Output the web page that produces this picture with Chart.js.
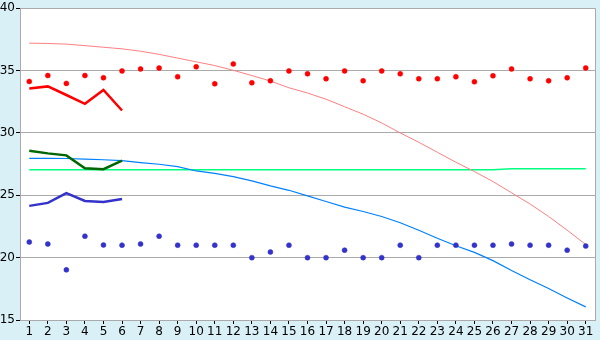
<!DOCTYPE html>
<html>
<head>
<meta charset="utf-8">
<script src="https://cdn.jsdelivr.net/npm/chart.js@4/dist/chart.umd.min.js"></script>
<style>
  html, body { margin: 0; padding: 0; background: #DAF0F7; }
  #wrap { width: 600px; height: 340px; }
</style>
</head>
<body>
<div id="wrap"><canvas id="c" width="600" height="340"></canvas></div>
<script>
const days = ['1','2','3','4','5','6','7','8','9','10','11','12','13','14','15','16','17','18','19','20','21','22','23','24','25','26','27','28','29','30','31'];

const highRecordDots = [34.13, 34.6, 33.97, 34.6, 34.42, 34.97, 35.13, 35.2, 34.5, 35.3,
  33.94, 35.53, 34.02, 34.18, 34.97, 34.74, 34.34, 34.97, 34.18, 34.97,
  34.74, 34.34, 34.34, 34.5, 34.1, 34.58, 35.13, 34.34, 34.18, 34.42, 35.21];

const lowRecordDots = [21.25, 21.09, 19.02, 21.72, 21.01, 21.0, 21.09, 21.72, 21.0, 21.0,
  21.0, 21.0, 20.0, 20.45, 21.0, 20.0, 20.0, 20.6, 20.0, 20.0,
  21.0, 20.0, 21.0, 21.0, 21.0, 21.0, 21.09, 21.0, 21.0, 20.6, 20.93];

const redLine = [33.57, 33.73, 33.04, 32.33, 33.44, 31.8];
const greenLine = [28.57, 28.36, 28.2, 27.17, 27.09, 27.78];
const blueLine = [24.15, 24.39, 25.18, 24.55, 24.47, 24.71];

const pinkCurve = [37.2, 37.17, 37.12, 37.0, 36.87, 36.74, 36.55, 36.3, 36.0, 35.7,
  35.4, 35.02, 34.6, 34.16, 33.62, 33.2, 32.7, 32.1, 31.5, 30.8,
  30.0, 29.25, 28.45, 27.65, 26.9, 26.1, 25.2, 24.3, 23.3, 22.2, 21.05];

const blueCurve = [27.96, 27.96, 27.95, 27.9, 27.85, 27.78, 27.62, 27.49, 27.3, 26.95,
  26.75, 26.5, 26.15, 25.75, 25.4, 24.95, 24.5, 24.05, 23.7, 23.3,
  22.8, 22.2, 21.55, 20.95, 20.42, 19.76, 18.97, 18.23, 17.52, 16.77, 16.05];

const greenFlat = [27.04, 27.04, 27.04, 27.04, 27.04, 27.04, 27.04, 27.04, 27.04, 27.04,
  27.04, 27.04, 27.04, 27.04, 27.04, 27.04, 27.04, 27.04, 27.04, 27.04,
  27.04, 27.04, 27.04, 27.04, 27.04, 27.04, 27.12, 27.12, 27.12, 27.12, 27.12];

const yTicks = [15, 20, 25, 30, 35, 40];

const plotBg = {
  id: 'plotBg',
  beforeDraw(chart) {
    const {ctx, chartArea: a} = chart;
    ctx.save();
    ctx.fillStyle = '#DAF0F7';
    ctx.fillRect(0, 0, chart.width, chart.height);
    ctx.fillStyle = '#ffffff';
    ctx.fillRect(a.left, a.top, a.right - a.left, a.bottom - a.top);
    ctx.restore();
  },
  afterDatasetsDraw(chart) {
    const {ctx, chartArea: a} = chart;
    ctx.save();
    ctx.strokeStyle = '#aaaaaa';
    ctx.lineWidth = 1;
    ctx.beginPath();
    ctx.moveTo(Math.round(a.right) + 0.5, a.top);
    ctx.lineTo(Math.round(a.right) + 0.5, a.bottom);
    ctx.stroke();
    ctx.restore();
  }
};

const lineDs = (data, color, width) => ({
  data, borderColor: color, borderWidth: width, pointRadius: 0,
  fill: false, tension: 0, spanGaps: false
});
const dotDs = (data, color) => ({
  data, showLine: false, pointStyle: 'circle', pointRadius: 2.5,
  pointBackgroundColor: color, pointBorderColor: color, pointBorderWidth: 0.5
});

new Chart(document.getElementById('c'), {
  type: 'line',
  data: {
    labels: days,
    datasets: [
      dotDs(highRecordDots, '#FF0000'),
      dotDs(lowRecordDots, '#3333CC'),
      lineDs(redLine, '#FF0000', 2.5),
      lineDs(greenLine, '#006600', 2.5),
      lineDs(blueLine, '#3333CC', 2.5),
      lineDs(pinkCurve, '#FF8080', 1),
      lineDs(blueCurve, '#0080FF', 1.2),
      lineDs(greenFlat, '#00FF80', 1.5)
    ]
  },
  options: {
    responsive: false,
    animation: false,
    events: [],
    layout: { padding: { top: 5, right: 5, left: 0, bottom: 0 } },
    plugins: { legend: { display: false }, tooltip: { enabled: false } },
    scales: {
      x: {
        offset: true,
        grid: { display: true, drawOnChartArea: false, drawTicks: true, tickLength: 4,
                tickColor: '#000000', offset: false },
        border: { display: true, color: '#aaaaaa' },
        ticks: { color: '#000000', font: { family: 'DejaVu Sans', size: 12 },
                 padding: 1, maxRotation: 0, autoSkip: false },
        afterFit(s) { s.height = 20; }
      },
      y: {
        min: 15, max: 40,
        afterBuildTicks(s) { s.ticks = yTicks.map(v => ({ value: v })); },
        grid: { color: '#aaaaaa', drawTicks: true, tickLength: 4, tickColor: '#000000' },
        border: { display: true, color: '#aaaaaa' },
        ticks: { color: '#000000', font: { family: 'DejaVu Sans', size: 12 }, padding: 1 },
        afterFit(s) { s.width = 20; }
      }
    }
  },
  plugins: [plotBg]
});
</script>
</body>
</html>
